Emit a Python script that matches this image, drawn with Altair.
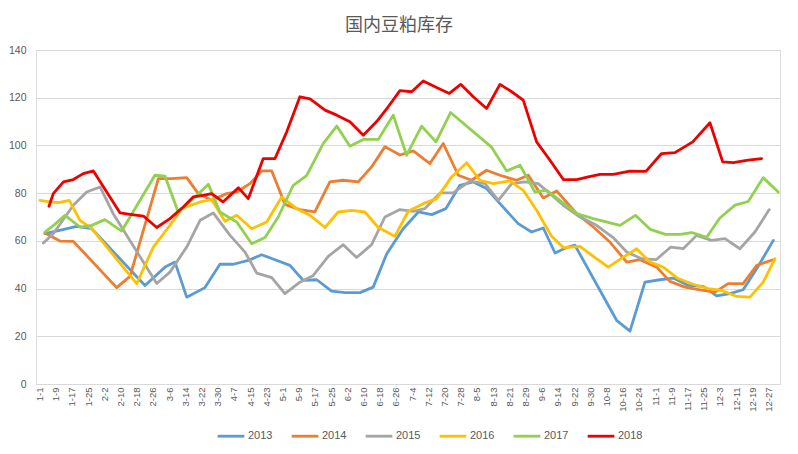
import json
import altair as alt
import pandas as pd

TITLE = "国内豆粕库存"
YEARS = ["2013", "2014", "2015", "2016", "2017", "2018"]
COLORS = ["#5B9BD5", "#ED7D31", "#A5A5A5", "#FFC000", "#92D050", "#EE0000"]
WIDTHS = [2.8, 2.8, 2.8, 2.8, 2.8, 3.6]

TICK_LABELS = ["1-1", "1-9", "1-17", "1-25", "2-2", "2-10", "2-18", "2-26", "3-6",
               "3-14", "3-22", "3-30", "4-7", "4-15", "4-23", "5-1", "5-9", "5-17",
               "5-25", "6-2", "6-10", "6-18", "6-26", "7-4", "7-12", "7-20", "7-28",
               "8-5", "8-13", "8-21", "8-29", "9-6", "9-14", "9-22", "9-30", "10-8",
               "10-16", "10-24", "11-1", "11-9", "11-17", "11-25", "12-3", "12-11",
               "12-19", "12-27"]

# day offsets from Jan 1 and stock values
D2013 = [2.7, 7.7, 18.4, 25.8, 52.1, 62.0, 66.9, 72.7, 81.7, 89.1, 95.7, 103.1, 109.7,
         116.3, 123.7, 130.3, 136.9, 144.3, 150.9, 158.3, 164.8, 171.5, 179.6, 187.1,
         193.7, 200.7, 207.6, 214.2, 220.8, 227.4, 236.4, 243.0, 248.8, 254.6, 260.3,
         264.4, 285.0, 291.6, 299.0, 306.4, 313.0, 320.4, 327.8, 334.4, 340.9, 347.5,
         354.9, 362.4]
V2013 = [63, 64, 66.1, 65.1, 41.3, 49, 51.1, 36.4, 40.4, 50.2, 50.2, 51.8, 54.2,
         52.1, 49.7, 43.4, 43.7, 38.9, 38.3, 38.3, 40.6, 54.6, 65.1, 72.1,
         71, 73.5, 83.3, 84.7, 81.9, 75.6, 67.2, 63.7, 65.4, 54.9, 57.2,
         58.2, 26.7, 22.2, 42.7, 43.7, 44.4, 41.3, 40.9, 36.9, 37.9, 39.5,
         49.3, 60.2]

D2014 = [2.7, 10.1, 16.7, 38.1, 44.7, 58.7, 65.3, 72.7, 78.4, 85.0, 92.4, 97.4, 103.9,
         109.7, 114.7, 121.2, 128.6, 136.0, 143.4, 150.0, 157.4, 164.0, 170.6, 178.0,
         184.6, 192.8, 199.4, 206.8, 213.4, 220.8, 227.4, 235.6, 241.4, 248.8, 255.4,
         265.3, 273.5, 281.7, 290.0, 296.5, 304.8, 311.3, 318.8, 326.2, 333.6, 340.1,
         347.5, 354.2, 362.3]
V2014 = [63.3, 59.9, 59.8, 40.4, 45.1, 86.1, 86.1, 86.5, 79.8, 77, 79.8, 80.5, 84,
         89.3, 89.3, 75.3, 73.1, 72.1, 84.7, 85.4, 84.7, 91, 99.5, 96,
         97.7, 92.4, 100.8, 87.5, 85.4, 89.6, 87.5, 85.4, 87.5, 78, 80.9,
         71.4, 65.8, 59.5, 51.1, 52.1, 49, 43, 40.6, 39.5, 38.5, 42.1,
         42.1, 49.7, 52.1]

D2015 = [1.9, 6.8, 16.7, 23.3, 29.9, 36.4, 57.9, 64.4, 72.7, 79.3, 85.8, 94.1, 101.5,
         107.3, 114.7, 121.2, 128.6, 135.2, 142.6, 150.0, 156.6, 164.0, 170.6, 178.0,
         184.6, 190.3, 197.8, 204.3, 212.6, 220.0, 226.6, 233.2, 239.7, 246.3, 252.1,
         258.7, 266.9, 275.1, 283.3, 290.0, 297.4, 304.5, 311.8, 317.9, 324.5, 331.9,
         338.5, 345.9, 353.3, 360.4]
V2015 = [59.1, 63, 74.9, 80.5, 82.6, 71.4, 42.1, 46.9, 57.4, 68.6, 71.7, 62.3, 55.3,
         46.5, 44.6, 37.9, 42.7, 45.5, 53.5, 58.4, 53, 58.4, 70, 73.1,
         72.4, 73.5, 80.1, 80.1, 85, 84, 77, 84, 84.7, 84, 79.8,
         74.9, 70, 66.5, 61.4, 55.3, 52.5, 52.1, 57.4, 56.7, 62.3, 60.2,
         60.9, 56.7, 63.7, 73.1]

D2016 = [0.2, 5.2, 9.3, 14.7, 20.0, 25.8, 48.0, 56.2, 64.4, 70.2, 79.3, 85.0, 91.6,
         97.4, 104.8, 112.2, 119.6, 127.0, 133.6, 141.0, 147.5, 154.2, 160.7, 167.3,
         175.5, 182.1, 189.5, 196.1, 203.5, 211.0, 217.5, 224.1, 232.3, 238.9, 245.5,
         252.9, 258.7, 266.9, 273.5, 280.9, 288.3, 294.9, 301.5, 308.0, 315.4, 322.8,
         330.3, 336.9, 344.3, 350.9, 357.4, 363.2]
V2016 = [77, 76.3, 76, 77, 68.6, 65.1, 42.1, 57.4, 66.5, 73.5, 76.3, 77.3, 68.2,
         70.7, 65.1, 67.9, 78.4, 73.5, 70.7, 65.6, 72.1, 72.8, 72.1, 65.6,
         61.9, 72.4, 75.6, 77.7, 86.8, 92.7, 85.4, 84, 85.1, 81.2, 72.8,
         61.9, 57.2, 57.7, 53.5, 49, 53.2, 56.7, 51.1, 49, 44.2, 41.8,
         40, 39.2, 36.7, 36.4, 42.7, 52.5]

D2017 = [2.7, 7.7, 12.6, 20.0, 25.8, 32.3, 40.6, 57.0, 62.0, 68.5, 76.8, 83.4, 89.1,
         97.4, 104.8, 111.4, 117.9, 125.3, 131.9, 140.1, 146.8, 153.3, 159.9, 167.3,
         174.7, 181.3, 188.7, 195.8, 203.0, 223.1, 230.7, 237.3, 244.7, 250.5, 257.0,
         265.3, 273.5, 286.7, 294.3, 301.7, 309.0, 316.3, 322.1, 329.5, 336.0, 343.5,
         350.0, 357.4, 364.8]
V2017 = [63.7, 67, 70.7, 65.8, 66.5, 68.9, 64.1, 87.5, 87.1, 72.1, 78.4, 83.7, 72.1,
         67.9, 58.8, 61.4, 70, 83.3, 87.3, 100.8, 108.1, 99.7, 102.5, 102.5,
         112.7, 95.9, 108.1, 101.5, 113.8, 99.4, 89.3, 91.7, 80.5, 81.2, 77,
         71.4, 69.3, 66.5, 70.7, 64.8, 62.7, 62.7, 63.5, 61.5, 69.6, 75,
         76.5, 86.5, 80.5]

D2018 = [4.7, 6.8, 11.8, 16.7, 21.6, 26.6, 39.8, 44.7, 51.3, 57.9, 64.4, 71.0, 75.9,
         80.9, 85.0, 90.6, 98.2, 103.1, 110.5, 116.3, 122.1, 128.6, 133.6, 141.0,
         146.8, 153.3, 159.9, 166.5, 172.2, 178.0, 183.8, 189.5, 196.1, 202.4, 208.0,
         214.2, 220.8, 227.4, 233.2, 238.9, 245.5, 252.1, 258.7, 265.3, 271.0, 276.8,
         283.3, 291.6, 299.5, 307.2, 313.8, 322.6, 331.1, 337.4, 342.6, 350.0, 356.6]
V2018 = [74.5, 79.8, 84.7, 85.7, 88.2, 89.3, 71.7, 71.1, 70.4, 65.6, 69.3, 74.2, 78.4,
         79.1, 79.8, 76.3, 82.3, 77.7, 94.5, 94.5, 105.7, 120.4, 119.5, 114.8,
         112.7, 109.9, 104.3, 110, 116.2, 123, 122.5, 127, 124.3, 121.8, 125.6,
         120.4, 115.5, 125.6, 122.5, 119, 101.5, 93.8, 85.7, 85.7, 86.8, 87.9,
         87.9, 89.2, 89.1, 96.6, 97, 101.5, 109.5, 93.1, 92.8, 93.8, 94.5]

SERIES = {"2013": (D2013, V2013), "2014": (D2014, V2014), "2015": (D2015, V2015),
          "2016": (D2016, V2016), "2017": (D2017, V2017), "2018": (D2018, V2018)}

rows = []
for yr in YEARS:
    ds, vs = SERIES[yr]
    for i, (d, v) in enumerate(zip(ds, vs)):
        rows.append({"year": yr, "day": d, "value": v, "i": i})
df = pd.DataFrame(rows)

label_expr = json.dumps(TICK_LABELS) + "[round(datum.value / 8)]"
GRID = "#D9D9D9"
TXT = "#595959"

chart = alt.Chart(df).mark_line(strokeJoin="round", strokeCap="round").encode(
    x=alt.X("day:Q",
            scale=alt.Scale(domain=[-1.73, 365.7], nice=False, zero=False),
            axis=alt.Axis(values=[8 * k for k in range(len(TICK_LABELS))],
                          labelExpr=label_expr, labelAngle=270, title=None,
                          grid=False, ticks=False, tickSize=0, domain=True,
                          domainColor=GRID, labelFontSize=9.5,
                          labelFont="Liberation Sans", labelColor=TXT,
                          labelPadding=3, labelOverlap=False, labelFlush=False)),
    y=alt.Y("value:Q",
            scale=alt.Scale(domain=[0, 140], nice=False),
            axis=alt.Axis(values=[0, 20, 40, 60, 80, 100, 120, 140], title=None,
                          grid=True, gridColor=GRID, gridWidth=1, domain=False,
                          ticks=False, tickSize=0, labelFontSize=10.5,
                          labelFont="Liberation Sans", labelColor=TXT,
                          labelPadding=10)),
    color=alt.Color("year:N",
                    scale=alt.Scale(domain=YEARS, range=COLORS),
                    legend=alt.Legend(title=None, orient="none", direction="horizontal",
                                      legendX=180, legendY=371,
                                      symbolType="stroke", symbolSize=713,
                                      symbolStrokeWidth=3, labelOffset=2,
                                      columnPadding=13, labelFontSize=11,
                                      labelFont="Liberation Sans", labelColor=TXT)),
    strokeWidth=alt.StrokeWidth("year:N",
                                scale=alt.Scale(domain=YEARS, range=WIDTHS),
                                legend=None),
    order="i:Q",
).properties(
    width=744,
    height=334,
    autosize=alt.AutoSizeParams(type="none"),
    padding={"left": 28, "top": 42, "right": 10, "bottom": 62},
    title=alt.TitleParams(text=TITLE, font="Noto Sans CJK SC", fontSize=18,
                          fontWeight="normal", color=TXT, anchor="middle",
                          offset=10, dx=-9),
).configure_view(stroke=None).configure(background="white")

chart.save("out.html", embed_options={"renderer": "svg", "actions": False})
